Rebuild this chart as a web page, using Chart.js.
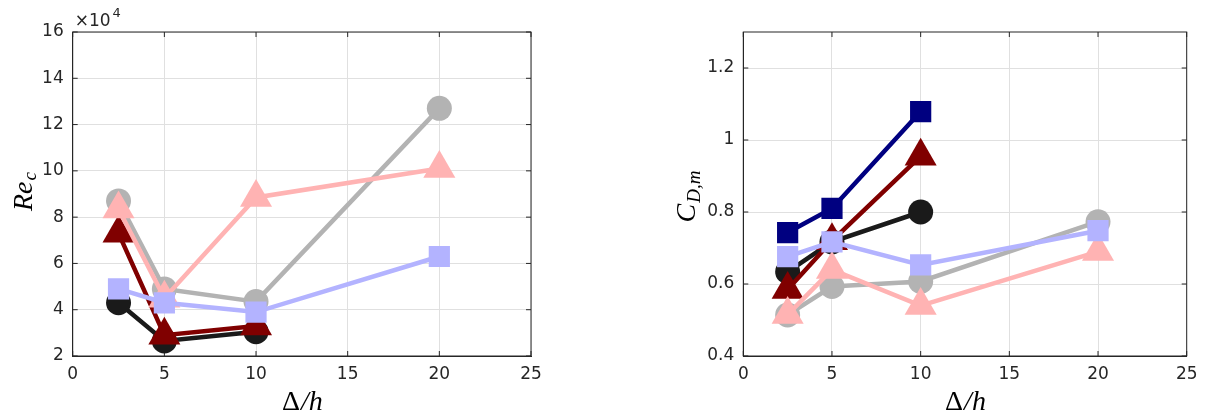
<!DOCTYPE html>
<html><head><meta charset="utf-8">
<script src="https://cdn.jsdelivr.net/npm/chart.js@4/dist/chart.umd.min.js"></script>
<style>
html,body{margin:0;padding:0;background:#fff;}
#wrap{position:relative;width:1220px;height:418px;overflow:hidden;}
canvas{position:absolute;top:0;}
</style></head><body>
<div id="wrap"><canvas id="c1" width="610" height="418" style="left:0"></canvas><canvas id="c2" width="610" height="418" style="left:610px"></canvas></div>
<script>
// ---- data ----
const deltaH = [2.5, 5, 10, 20];
const xTicks = [0, 5, 10, 15, 20, 25];
const reTicks = [2, 4, 6, 8, 10, 12, 14, 16];
const cdTicks = [0.4, 0.6, 0.8, 1, 1.2];

// Re_c (x 10^4)
const reLightBlue = [4.9, 4.3, 3.9, 6.3];
const rePink      = [8.35, 4.5, 8.85, 10.1];
const reDarkRed   = [7.3, 2.9, 3.3];
const reGray      = [8.7, 4.9, 4.35, 12.7];
const reBlack     = [4.3, 2.65, 3.05];

// C_D,m
const cdLightBlue = [0.676, 0.717, 0.653, 0.748];
const cdPink      = [0.515, 0.64, 0.54, 0.69];
const cdDarkRed   = [0.585, 0.72, 0.955];
const cdNavy      = [0.743, 0.81, 1.079];
const cdGray      = [0.514, 0.593, 0.607, 0.773];
const cdBlack     = [0.634, 0.717, 0.80];

const xTitleMain = 'Δ', xTitleRest = '/h';
const reTitle = ['Re', 'c'];
const cdTitle = ['C', 'D,m'];
const reExponent = ['×10', '4'];

// ---- styles ----
const COL = {
  lightBlue: '#b3b3ff', pink: '#ffb3b3', darkRed: '#800000',
  navy: '#000080', gray: '#b3b3b3', black: '#1a1a1a'
};
const AX = '#262626';
const GRID = '#e0e0e0';
const SANS = "'DejaVu Sans', sans-serif";
const SERIF = "'Liberation Serif', 'DejaVu Serif', serif";

function pts(vals) { return vals.map((v, i) => ({ x: deltaH[i], y: v })); }
function ds(vals, color, shape) {
  const r = shape === 'circle' ? 12.5 : shape === 'rect' ? 15 : 18.5;
  return {
    data: pts(vals), borderColor: color, backgroundColor: color,
    borderWidth: 4.5, pointStyle: shape, pointRadius: r, pointHoverRadius: r,
    pointBorderWidth: 0, pointBackgroundColor: color, tension: 0, fill: false
  };
}

const decor = {
  id: 'decor',
  beforeDatasetsDraw(chart, args, o) {
    const ctx = chart.ctx, a = chart.chartArea;
    ctx.save();
    ctx.strokeStyle = AX; ctx.lineWidth = 1;
    ctx.strokeRect(a.left, a.top, a.right - a.left, a.bottom - a.top);
    const L = 5;
    ctx.beginPath();
    chart.scales.x.ticks.forEach(t => {
      const px = chart.scales.x.getPixelForValue(t.value);
      ctx.moveTo(px, a.bottom); ctx.lineTo(px, a.bottom - L);
      ctx.moveTo(px, a.top); ctx.lineTo(px, a.top + L);
    });
    chart.scales.y.ticks.forEach(t => {
      const py = chart.scales.y.getPixelForValue(t.value);
      ctx.moveTo(a.left, py); ctx.lineTo(a.left + L, py);
      ctx.moveTo(a.right, py); ctx.lineTo(a.right - L, py);
    });
    ctx.stroke();
    ctx.restore();
  },
  afterDraw(chart, args, o) {
    const ctx = chart.ctx, a = chart.chartArea;
    ctx.save();
    ctx.fillStyle = '#000';
    ctx.textBaseline = 'alphabetic';
    // x title
    ctx.font = '28px ' + SERIF;
    const w1 = ctx.measureText(xTitleMain).width;
    ctx.font = 'italic 28px ' + SERIF;
    const w2 = ctx.measureText(xTitleRest).width;
    const cx = (a.left + a.right) / 2;
    let sx = cx - (w1 + w2) / 2;
    ctx.font = '28px ' + SERIF;
    ctx.fillText(xTitleMain, sx, o.xTitleY);
    ctx.font = 'italic 28px ' + SERIF;
    ctx.fillText(xTitleRest, sx + w1 + 1, o.xTitleY);
    // y title (rotated)
    ctx.save();
    ctx.translate(o.yTitleX, (a.top + a.bottom) / 2 + o.yTitleShift);
    ctx.rotate(-Math.PI / 2);
    ctx.font = 'italic 28px ' + SERIF;
    const m = ctx.measureText(o.yTitle[0]).width;
    ctx.font = 'italic 19px ' + SERIF;
    const s = ctx.measureText(o.yTitle[1]).width;
    const st = -(m + s) / 2;
    ctx.font = 'italic 28px ' + SERIF;
    ctx.fillText(o.yTitle[0], st, 0);
    ctx.font = 'italic 19px ' + SERIF;
    ctx.fillText(o.yTitle[1], st + m + 1, o.subDrop);
    ctx.restore();
    // exponent
    if (o.exponent) {
      ctx.fillStyle = AX;
      ctx.font = '17px ' + SANS;
      ctx.fillText(o.exponent[0], a.left + 2, 26);
      const ew = ctx.measureText(o.exponent[0]).width;
      ctx.font = '13px ' + SANS;
      ctx.fillText(o.exponent[1], a.left + 4 + ew, 17);
    }
    ctx.restore();
  }
};

function makeChart(id, datasets, yTicks, yMin, yMax, pad, yAxisWidth, decorOpts) {
  const setTicks = arr => scale => { scale.ticks = arr.map(v => ({ value: v })); };
  return new Chart(document.getElementById(id), {
    type: 'line',
    data: { datasets },
    options: {
      responsive: false, animation: false, devicePixelRatio: 1,
      layout: { padding: pad },
      plugins: { legend: { display: false }, tooltip: { enabled: false }, decor: decorOpts },
      events: [],
      scales: {
        x: {
          type: 'linear', min: 0, max: 25,
          afterBuildTicks: setTicks(xTicks),
          afterFit: s => { s.height = 62; s.paddingLeft = 0; s.paddingRight = 0; },
          grid: { color: GRID, lineWidth: 1, drawTicks: false },
          border: { display: true, color: AX, width: 1 },
          ticks: { color: AX, font: { family: SANS, size: 17 }, padding: 8, maxRotation: 0, autoSkip: false, callback: v => String(v) }
        },
        y: {
          type: 'linear', min: yMin, max: yMax,
          afterBuildTicks: setTicks(yTicks),
          afterFit: s => { s.width = yAxisWidth; s.paddingTop = 0; s.paddingBottom = 0; },
          grid: { color: GRID, lineWidth: 1, drawTicks: false },
          border: { display: true, color: AX, width: 1 },
          ticks: { color: AX, font: { family: SANS, size: 17 }, padding: 9, autoSkip: false, callback: v => String(v) }
        }
      }
    },
    plugins: [decor]
  });
}

makeChart('c1', [
  ds(reLightBlue, COL.lightBlue, 'rect'),
  ds(rePink, COL.pink, 'triangle'),
  ds(reDarkRed, COL.darkRed, 'triangle'),
  ds(reGray, COL.gray, 'circle'),
  ds(reBlack, COL.black, 'circle')
], reTicks, 2, 16, { left: 0, top: 32, right: 79, bottom: 0 }, 72.7,
  { xTitleY: 410, yTitleX: 32, yTitleShift: -2, yTitle: reTitle, subDrop: 4, exponent: reExponent });

makeChart('c2', [
  ds(cdLightBlue, COL.lightBlue, 'rect'),
  ds(cdPink, COL.pink, 'triangle'),
  ds(cdDarkRed, COL.darkRed, 'triangle'),
  ds(cdNavy, COL.navy, 'rect'),
  ds(cdGray, COL.gray, 'circle'),
  ds(cdBlack, COL.black, 'circle')
], cdTicks, 0.4, 1.3, { left: 0, top: 32, right: 33.3, bottom: 0 }, 133.3,
  { xTitleY: 410, yTitleX: 85, yTitleShift: 3, yTitle: cdTitle, subDrop: 5, exponent: null });
</script>
</body></html>
